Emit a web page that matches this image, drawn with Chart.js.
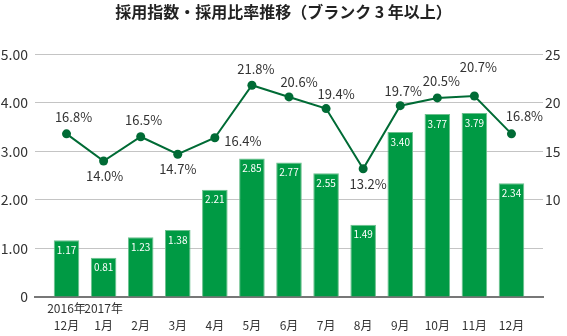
<!DOCTYPE html>
<html>
<head>
<meta charset="utf-8">
<script src="https://cdn.jsdelivr.net/npm/chart.js@4"></script>
<style>
  html, body { margin: 0; padding: 0; background: #fff; }
  #wrap { width: 567px; height: 336px; }
</style>
</head>
<body>
<div id="wrap"><canvas id="chart"></canvas></div>
<script>
// --- Daten ---
const yearLabels = ["2016年", "2017年", "", "", "", "", "", "", "", "", "", "", ""];
const monthLabels = ["12月", "1月", "2月", "3月", "4月", "5月", "6月", "7月", "8月", "9月", "10月", "11月", "12月"];
const indexValues = [1.17, 0.81, 1.23, 1.38, 2.21, 2.85, 2.77, 2.55, 1.49, 3.40, 3.77, 3.79, 2.34];
const rateValues = [16.8, 14.0, 16.5, 14.7, 16.4, 21.8, 20.6, 19.4, 13.2, 19.7, 20.5, 20.7, 16.8];

// Label-Versatz der Prozentwerte (px, relativ zum Punkt)
const rateLabelOffsets = [
  [7, -17], [1, 15], [3, -17], [0, 15], [28, 3], [4, -16], [10, -15],
  [10, -15], [5, 15], [3, -15], [4, -17], [4, -29], [13, -18]
];

const FONT = "'Noto Sans CJK JP', 'Noto Sans', sans-serif";
const BAR_GREEN = "#009a44";
const LINE_GREEN = "#006b35";

// --- Wertebeschriftung ---
const valueLabels = {
  id: "valueLabels",
  afterDatasetsDraw(chart) {
    const ctx = chart.ctx;
    ctx.save();
    ctx.textAlign = "center";
    ctx.textBaseline = "middle";

    const barMeta = chart.getDatasetMeta(1);
    ctx.font = "10px " + FONT;
    ctx.fillStyle = "#ffffff";
    barMeta.data.forEach((bar, i) => {
      ctx.fillText(indexValues[i].toFixed(2), bar.x, bar.y + 10);
    });

    const lineMeta = chart.getDatasetMeta(0);
    ctx.font = "13px " + FONT;
    ctx.fillStyle = "#333333";
    lineMeta.data.forEach((pt, i) => {
      const off = rateLabelOffsets[i];
      ctx.fillText(rateValues[i].toFixed(1) + "%", pt.x + off[0], pt.y + off[1]);
    });
    ctx.restore();
  }
};

const chart = new Chart(document.getElementById("chart"), {
  type: "bar",
  data: {
    datasets: [
      {
        type: "line",
        label: "採用比率",
        data: rateValues.map((v, i) => ({ x: i, y: v })),
        yAxisID: "y1",
        borderColor: LINE_GREEN,
        backgroundColor: LINE_GREEN,
        borderWidth: 2,
        pointRadius: 4.5,
        pointBackgroundColor: LINE_GREEN,
        pointBorderWidth: 0,
        tension: 0,
        order: 0
      },
      {
        type: "bar",
        label: "採用指数",
        data: indexValues.map((v, i) => ({ x: i, y: v })),
        yAxisID: "y",
        backgroundColor: BAR_GREEN,
        borderColor: "#6cc08e",
        borderWidth: 1,
        barPercentage: 1,
        categoryPercentage: 0.69,
        order: 1
      }
    ]
  },
  options: {
    responsive: true,
    maintainAspectRatio: false,
    animation: false,
    layout: { padding: 0 },
    plugins: {
      legend: { display: false },
      tooltip: { enabled: false },
      title: {
        display: true,
        text: "採用指数・採用比率推移（ブランク 3 年以上）",
        color: "#222222",
        font: { family: FONT, size: 16, weight: "bold" },
        padding: { top: 2, bottom: 33 }
      }
    },
    scales: {
      x: {
        type: "linear",
        offset: false,
        min: -0.85,
        max: 12.85,
        grid: { display: false, drawTicks: false, tickLength: 0 },
        border: { display: true, color: "#777777", width: 2 },
        afterFit: (s) => { s.height = 39; },
        ticks: {
          stepSize: 1,
          includeBounds: false,
          autoSkip: false,
          maxRotation: 0,
          padding: 3,
          color: "#333333",
          font: { family: FONT, size: 12, lineHeight: 1.4 },
          callback: (v) => {
            if (!Number.isInteger(v) || v < 0 || v >= monthLabels.length) return "";
            return [yearLabels[v], monthLabels[v]];
          }
        }
      },
      y: {
        position: "left",
        min: 0,
        max: 5,
        grid: { color: "#c4c4c4", lineWidth: 1, drawTicks: false },
        border: { display: false },
        afterFit: (s) => { s.width = 35; },
        ticks: {
          stepSize: 1,
          padding: 7,
          color: "#333333",
          font: { family: FONT, size: 14 },
          callback: (v) => (v === 0 ? "0" : v.toFixed(2))
        }
      },
      y1: {
        position: "right",
        min: 0,
        max: 25,
        grid: { drawOnChartArea: false, drawTicks: false },
        border: { display: false },
        afterFit: (s) => { s.width = 24; },
        ticks: {
          stepSize: 5,
          padding: 2,
          color: "#333333",
          font: { family: FONT, size: 14 },
          callback: (v) => (v >= 10 ? String(v) : "")
        }
      }
    }
  },
  plugins: [valueLabels]
});
</script>
</body>
</html>
